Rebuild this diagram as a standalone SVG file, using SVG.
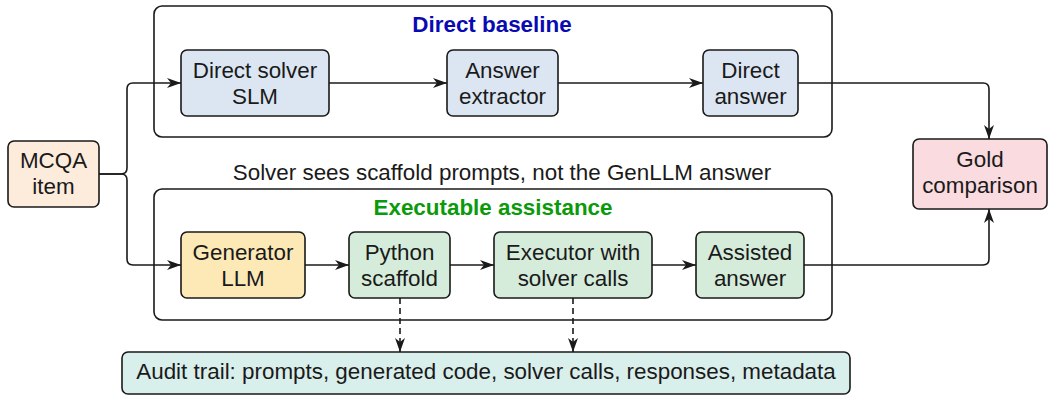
<svg xmlns="http://www.w3.org/2000/svg" width="1058" height="396" viewBox="0 0 1058 396">
<style>
text{font-family:"Liberation Sans",Arial,Helvetica,sans-serif;font-size:22.4px;fill:#1a1a1a;text-anchor:middle}
.group{fill:#fff;stroke:#1a1a1a;stroke-width:1.6}
.node{stroke:#1a1a1a;stroke-width:1.6}
.blue{fill:#dce6f2}
.green{fill:#d6ecdb}
.yellow{fill:#fde9b6}
.peach{fill:#fdebdc}
.pink{fill:#fadbdf}
.teal{fill:#d9efeb}
.title{font-weight:bold}
.conn path{fill:none;stroke:#1a1a1a;stroke-width:1.6}
.dash{stroke-dasharray:6 4}
</style>
<defs>
<marker id="ah" markerUnits="userSpaceOnUse" markerWidth="14" markerHeight="10" refX="14" refY="5" orient="auto" viewBox="0 0 14 10">
<path d="M0,0 L14,5 L0,10 L4,5 z" fill="#1a1a1a"/>
</marker>
</defs>

<g id="group-direct">
<rect class="group" x="154" y="6" width="678" height="131" rx="8"/>
<text class="title" x="492" y="32" style="fill:#0a0ab4">Direct baseline</text>
</g>
<g id="group-exec">
<rect class="group" x="154" y="189" width="678" height="131" rx="8"/>
<text class="title" x="493" y="215" style="fill:#0a9a0a">Executable assistance</text>
</g>
<g id="note">
<text x="502" y="180">Solver sees scaffold prompts, not the GenLLM answer</text>
</g>

<g class="conn" id="connectors">
<path d="M99,174 H121 Q127,174 127,168 V89 Q127,83 133,83 H181" marker-end="url(#ah)"/>
<path d="M99,174 H121 Q127,174 127,180 V259 Q127,265 133,265 H181" marker-end="url(#ah)"/>
<path d="M329,83 H447" marker-end="url(#ah)"/>
<path d="M558,83 H703" marker-end="url(#ah)"/>
<path d="M305,265 H349" marker-end="url(#ah)"/>
<path d="M450,265 H494" marker-end="url(#ah)"/>
<path d="M652,265 H696" marker-end="url(#ah)"/>
<path d="M798,83 H983 Q989,83 989,89 V139" marker-end="url(#ah)"/>
<path d="M804,265 H983 Q989,265 989,259 V209" marker-end="url(#ah)"/>
<path class="dash" d="M400,298 V352" marker-end="url(#ah)"/>
<path class="dash" d="M573,298 V352" marker-end="url(#ah)"/>
</g>

<g id="mcqa">
<rect class="node peach" x="8" y="141" width="91" height="66" rx="6"/>
<text x="53.5" y="168">MCQA</text>
<text x="53.5" y="194">item</text>
</g>
<g id="direct-solver">
<rect class="node blue" x="181" y="50" width="148" height="66" rx="6"/>
<text x="255" y="78">Direct solver</text>
<text x="255" y="104">SLM</text>
</g>
<g id="answer-extractor">
<rect class="node blue" x="447" y="50" width="111" height="66" rx="6"/>
<text x="502.5" y="78">Answer</text>
<text x="502.5" y="104">extractor</text>
</g>
<g id="direct-answer">
<rect class="node blue" x="703" y="50" width="95" height="66" rx="6"/>
<text x="750.5" y="78">Direct</text>
<text x="750.5" y="104">answer</text>
</g>
<g id="generator">
<rect class="node yellow" x="181" y="232" width="124" height="66" rx="6"/>
<text x="243" y="260">Generator</text>
<text x="243" y="286">LLM</text>
</g>
<g id="python-scaffold">
<rect class="node green" x="349" y="232" width="101" height="66" rx="6"/>
<text x="399.5" y="260">Python</text>
<text x="399.5" y="286">scaffold</text>
</g>
<g id="executor">
<rect class="node green" x="494" y="232" width="158" height="66" rx="6"/>
<text x="573" y="260">Executor with</text>
<text x="573" y="286">solver calls</text>
</g>
<g id="assisted-answer">
<rect class="node green" x="696" y="232" width="108" height="66" rx="6"/>
<text x="750" y="260">Assisted</text>
<text x="750" y="286">answer</text>
</g>
<g id="gold">
<rect class="node pink" x="913" y="139" width="134" height="70" rx="6"/>
<text x="980" y="167">Gold</text>
<text x="980" y="193">comparison</text>
</g>
<g id="audit">
<rect class="node teal" x="122" y="352" width="728" height="42" rx="6"/>
<text x="486" y="379">Audit trail: prompts, generated code, solver calls, responses, metadata</text>
</g>
</svg>
